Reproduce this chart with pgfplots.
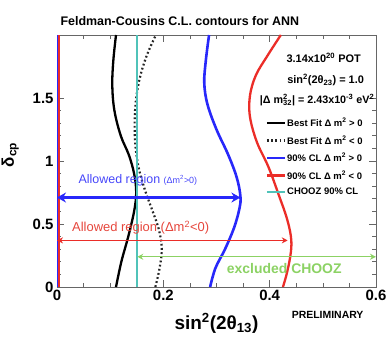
\documentclass[border=0pt]{standalone}
\usepackage{fontspec}
\setmainfont{Liberation Sans}
\usepackage{pgfplots}
\pgfplotsset{compat=1.18}
\usetikzlibrary{arrows.meta}

\definecolor{cblue}{RGB}{40,40,250}
\definecolor{cred}{RGB}{235,45,40}
\definecolor{ccyan}{RGB}{80,195,185}
\definecolor{cgreen}{RGB}{140,210,100}
\definecolor{tblue}{RGB}{70,70,250}
\definecolor{tred}{RGB}{230,70,60}
\newcommand{\fs}[1]{\fontsize{#1}{#1}\selectfont}

\begin{document}
\begin{tikzpicture}
\begin{axis}[
  scale only axis, width=319bp, height=252bp,
  xmin=0, xmax=0.6, ymin=0, ymax=2,
  xtick={0,0.2,0.4,0.6}, xticklabels={0,0.2,0.4,0.6},
  ytick={0,0.5,1,1.5}, yticklabels={0,0.5,1,1.5},
  minor x tick num=3, minor y tick num=4,
  tick align=inside,
  major tick length=7bp, minor tick length=4bp,
  /pgf/number format/assume math mode=true,
  ticklabel style={font=\bfseries\fs{15}},
  axis line style={black!60, line width=0.8bp},
  every tick/.style={black!60, line width=0.6bp},
  clip=false,
  legend style={draw=none, fill=none, at={(axis cs:0.392,1.35)}, anchor=north west,
    font=\bfseries\fs{9.5}, row sep=5.6bp, inner sep=0pt, nodes={inner sep=1pt}},
  legend cell align=left,
  legend image code/.code={\draw[#1] (0bp,0bp) -- (18bp,0bp);},
]
% Best fit dm2>0
\addplot[black, line width=2.3bp, smooth, tension=0.6] coordinates {
(0.111,0) (0.121,0.2) (0.134,0.4) (0.145,0.6) (0.149,0.75) (0.145,0.9) (0.135,1.05)
(0.12,1.2) (0.108,1.4) (0.104,1.6) (0.106,1.8) (0.111,2.0)};
\addlegendentry{Best Fit Δ m\textsuperscript{2} > 0}
% Best fit dm2<0
\addplot[black!85, line width=2.2bp, dash pattern=on 1.8bp off 2.4bp, smooth, tension=0.6] coordinates {
(0.185,0) (0.193,0.15) (0.197,0.3) (0.192,0.45) (0.18,0.6) (0.167,0.75) (0.155,0.92)
(0.148,1.1) (0.146,1.3) (0.149,1.5) (0.157,1.68) (0.17,1.85) (0.186,2.0)};
\addlegendentry{Best Fit Δ m\textsuperscript{2} < 0}
% 90% CL dm2>0
\addplot[cblue, line width=2.6bp, smooth, tension=0.6] coordinates {
(0.288,0) (0.298,0.15) (0.316,0.3) (0.333,0.47) (0.343,0.62) (0.345,0.72) (0.338,0.87)
(0.322,1.05) (0.3,1.25) (0.283,1.45) (0.277,1.62) (0.28,1.8) (0.286,2.0)};
\addlegendentry{90\% CL Δ m\textsuperscript{2} > 0}
% 90% CL dm2<0
\addplot[cred, line width=2.3bp, smooth, tension=0.6] coordinates {
(0.425,0) (0.433,0.12) (0.44,0.28) (0.44,0.4) (0.432,0.55) (0.418,0.72) (0.398,0.95)
(0.376,1.15) (0.363,1.35) (0.363,1.52) (0.374,1.68) (0.395,1.83) (0.421,2.0)};
\addlegendentry{90\% CL Δ m\textsuperscript{2} < 0}
% CHOOZ
\addplot[ccyan, line width=2bp] coordinates {(0.151,0) (0.151,2)};
\addlegendentry{CHOOZ 90\% CL}
% left boundaries
\addplot[cblue, line width=1.4bp, forget plot] coordinates {(0.001,0) (0.001,2)};
\addplot[cred, line width=2bp, forget plot] coordinates {(0.0035,0) (0.0035,2)};
% arrows
\addplot[cblue, line width=2.8bp, arrows={Stealth[length=9bp,width=10bp]-Stealth[length=9bp,width=10bp]}, forget plot]
  coordinates {(0,0.71) (0.345,0.71)};
\addplot[cred, line width=1.5bp, arrows={Stealth[length=6bp,width=6bp]-Stealth[length=6bp,width=6bp]}, forget plot]
  coordinates {(0,0.37) (0.434,0.37)};
\addplot[cgreen, line width=1.4bp, arrows={Stealth[length=6bp,width=6bp]-Stealth[length=6bp,width=6bp]}, forget plot]
  coordinates {(0.151,0.24) (0.6,0.24)};

% annotations
\node[anchor=base west, text=tblue, font=\fs{12.5}] at (axis cs:0.034,0.825) {Allowed region {\fs{9}(Δm\textsuperscript{2}>0)}};
\node[anchor=base west, text=tred, font=\fs{13}] at (axis cs:0.022,0.437) {Allowed region (Δm\textsuperscript{2}<0)};
\node[anchor=base west, text=cgreen, font=\bfseries\fs{14}] at (axis cs:0.313,0.11) {excluded CHOOZ};

\node[anchor=base east, font=\bfseries\fs{11}] at (axis cs:0.578,1.785) {3.14x10\textsuperscript{20} POT};
\node[anchor=base east, font=\bfseries\fs{11}] at (axis cs:0.584,1.615) {sin\textsuperscript{2}(2θ\textsubscript{23}) = 1.0};
\node[anchor=base east, font=\bfseries\fs{10.8}, inner sep=1pt] at (axis cs:0.599,1.455) {|Δ m\rlap{\textsuperscript{2}}\textsubscript{32}| = 2.43x10\textsuperscript{-3} eV\textsuperscript{2}};

\node[anchor=base west, font=\bfseries\fs{12.5}, yshift=9bp] at (rel axis cs:0,1) {Feldman-Cousins C.L. contours for ANN};
\node[rotate=90, font=\bfseries\fs{17}] at (axis cs:-0.088,1.05) {δ\textsubscript{cp}};
\node[anchor=base, font=\bfseries\fs{19}, yshift=-42bp] at (axis cs:0.3,0) {sin\textsuperscript{2}(2θ\textsubscript{13})};
\node[anchor=base, font=\bfseries\fs{10.5}, yshift=-31bp] at (axis cs:0.509,0) {PRELIMINARY};

\coordinate (o) at (rel axis cs:0,0);
\end{axis}
\pgfresetboundingbox
\path[use as bounding box] (o) ++(-57bp,-59bp) rectangle ++(388bp,346bp);
\end{tikzpicture}
\end{document}
